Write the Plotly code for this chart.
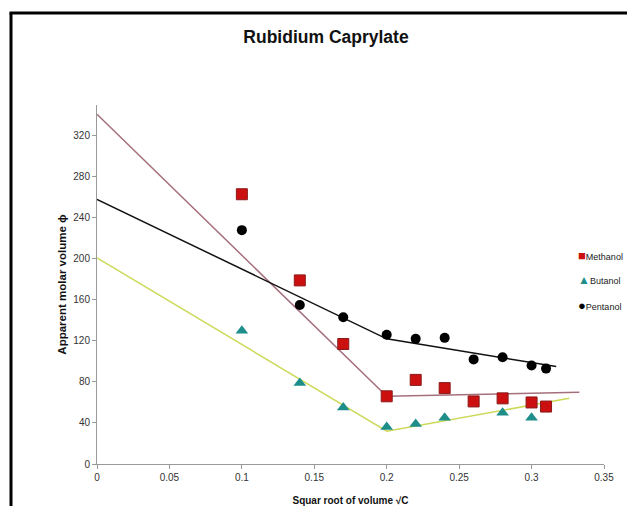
import plotly.graph_objects as go

# ---- data ----
methanol_x = [0.10, 0.14, 0.17, 0.20, 0.22, 0.24, 0.26, 0.28, 0.30, 0.31]
methanol_y = [263, 179, 117, 66, 82, 74, 61, 64, 60, 56]

butanol_x = [0.10, 0.14, 0.17, 0.20, 0.22, 0.24, 0.28, 0.30]
butanol_y = [130, 79, 55, 36, 39, 45, 50, 45]

pentanol_x = [0.10, 0.14, 0.17, 0.20, 0.22, 0.24, 0.26, 0.28, 0.30, 0.31]
pentanol_y = [228, 155, 143, 126, 122, 123, 102, 104, 96, 93]

# trend line break points
methanol_fit_x = [0.0, 0.20, 0.333]
methanol_fit_y = [341, 66, 70]
butanol_fit_x = [0.0, 0.20, 0.326]
butanol_fit_y = [201, 32, 64]
pentanol_fit_x = [0.0, 0.20, 0.317]
pentanol_fit_y = [258, 122, 95]

x_ticks = [0, 0.05, 0.1, 0.15, 0.2, 0.25, 0.3, 0.35]
x_tick_labels = ["0", "0.05", "0.1", "0.15", "0.2", "0.25", "0.3", "0.35"]
y_ticks = [0, 40, 80, 120, 160, 200, 240, 280, 320]

series_names = ["Methanol", "Butanol", "Pentanol"]
series_colors = ["#CC1010", "#1D8E8A", "#000000"]
legend_glyphs = ["\u25a0", "\u25b2", "\u25cf"]

fig = go.Figure()

# trend lines
fig.add_trace(go.Scatter(x=methanol_fit_x, y=methanol_fit_y, mode="lines",
                         line=dict(color="#A66F7C", width=1.5), showlegend=False, hoverinfo="skip"))
fig.add_trace(go.Scatter(x=pentanol_fit_x, y=pentanol_fit_y, mode="lines",
                         line=dict(color="#111111", width=1.5), showlegend=False, hoverinfo="skip"))
fig.add_trace(go.Scatter(x=butanol_fit_x, y=butanol_fit_y, mode="lines",
                         line=dict(color="#CCD95A", width=1.5), showlegend=False, hoverinfo="skip"))

# markers
fig.add_trace(go.Scatter(x=methanol_x, y=methanol_y, mode="markers", name=series_names[0],
                         showlegend=False,
                         marker=dict(symbol="square", size=11, color=series_colors[0],
                                     line=dict(color="#8A1A1A", width=1))))
fig.add_trace(go.Scatter(x=butanol_x, y=butanol_y, mode="markers", name=series_names[1],
                         showlegend=False,
                         marker=dict(symbol="triangle-up", size=11, color=series_colors[1],
                                     line=dict(width=0))))
fig.add_trace(go.Scatter(x=pentanol_x, y=pentanol_y, mode="markers", name=series_names[2],
                         showlegend=False,
                         marker=dict(symbol="circle", size=10, color=series_colors[2],
                                     line=dict(width=0))))

# page body has an 8px margin: figure drawn at (8, 8)
OFF = 8
W, H = 635 - OFF, 506 - OFF
L, R, T, B = 97 - OFF, 635 - 604, 105 - OFF, 506 - 464
pw, ph = W - L - R, H - T - B


def px_x(p):
    return (p - OFF - L) / pw


def px_y(p):
    return (H - B - (p - OFF)) / ph


axis_font = dict(family="Liberation Sans", size=10, color="#333333")

annotations = []
legend_rows = [255, 280, 305]
glyph_sizes = [13, 12, 13]
for name, color, glyph, row, gs in zip(series_names, series_colors, legend_glyphs, legend_rows, glyph_sizes):
    annotations.append(dict(
        xref="paper", yref="paper", x=px_x(576), y=px_y(row),
        xanchor="left", yanchor="middle", showarrow=False,
        text=f'<span style="color:{color};font-size:{gs}px">{glyph}</span>{name}',
        font=dict(family="Liberation Sans", size=9, color="#222222"),
    ))

fig.update_layout(
    width=W, height=H,
    margin=dict(l=L, r=R, t=T, b=B, autoexpand=False),
    paper_bgcolor="white", plot_bgcolor="white",
    showlegend=False,
    title=dict(text="<b>Rubidium Caprylate</b>", x=(326 - OFF) / W, xanchor="center",
               y=1 - (37 - OFF) / H, yanchor="middle",
               font=dict(family="Liberation Sans", size=17.5, color="#111111")),
    xaxis=dict(range=[0, 0.35], tickvals=x_ticks, ticktext=x_tick_labels,
               showgrid=False, zeroline=False, showline=True, linecolor="#9a9a9a", linewidth=1,
               ticks="outside", ticklen=4, tickcolor="#9a9a9a", tickfont=axis_font,
               title=dict(text="<b>Squar root of volume \u221aC</b>", standoff=14,
                          font=dict(family="Liberation Sans", size=10, color="#111111"))),
    yaxis=dict(range=[0, 350], tickvals=y_ticks,
               showgrid=False, zeroline=False, showline=True, linecolor="#9a9a9a", linewidth=1,
               ticks="outside", ticklen=4, tickcolor="#9a9a9a", tickfont=axis_font,
               title=dict(text="<b>Apparent molar volume \u03d5</b>", standoff=4,
                          font=dict(family="Liberation Sans", size=11.5, color="#111111"))),
    annotations=annotations,
    shapes=[
        dict(type="line", xref="paper", yref="paper", x0=px_x(11), x1=px_x(11),
             y0=px_y(13), y1=px_y(530), line=dict(color="black", width=3)),
        dict(type="line", xref="paper", yref="paper", x0=px_x(9.5), x1=px_x(650),
             y0=px_y(13), y1=px_y(13), line=dict(color="black", width=3)),
    ],
)

fig.write_html("out.html")
